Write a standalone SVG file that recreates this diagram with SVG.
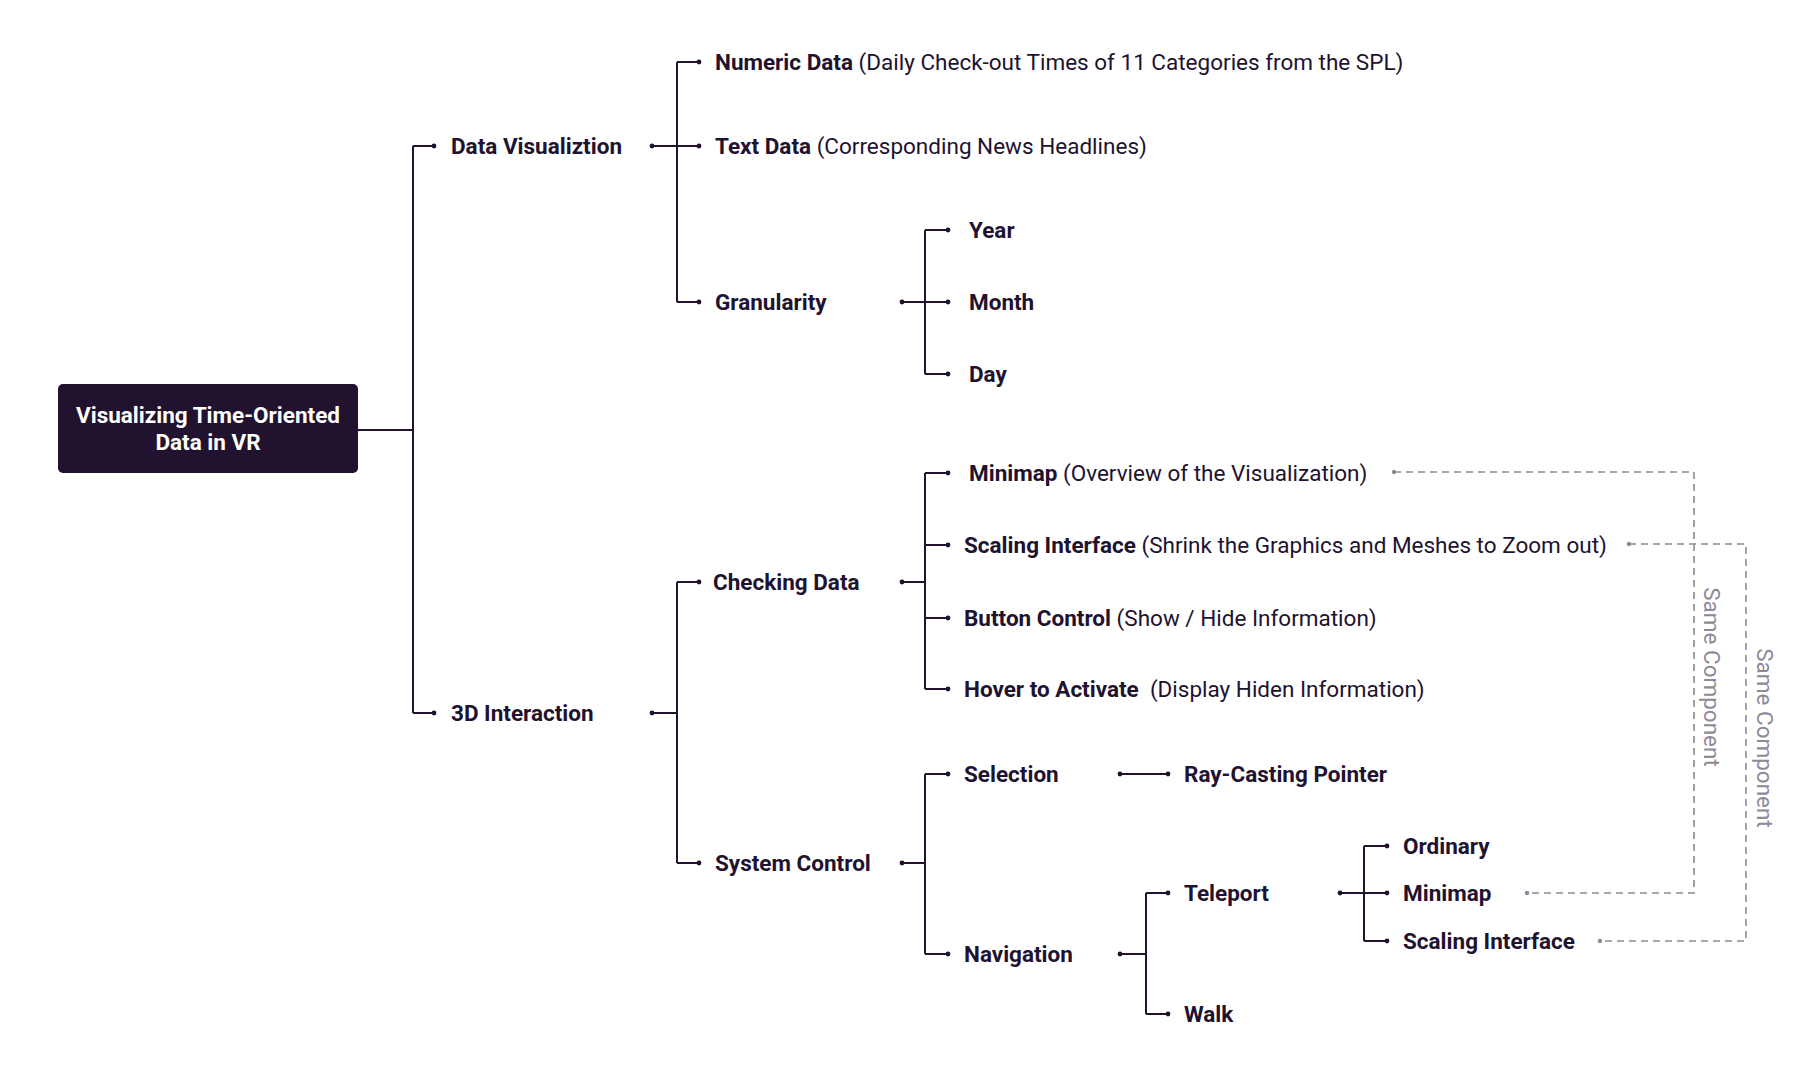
<svg xmlns="http://www.w3.org/2000/svg" width="1800" height="1081" viewBox="0 0 1800 1081">
<defs>
<marker id="dot" viewBox="0 0 6 6" refX="3" refY="3" markerWidth="6" markerHeight="6" markerUnits="userSpaceOnUse"><circle cx="3" cy="3" r="2.4" fill="#21122f"/></marker>
<marker id="gdot" viewBox="0 0 6 6" refX="3" refY="3" markerWidth="6" markerHeight="6" markerUnits="userSpaceOnUse"><circle cx="3" cy="3" r="2.2" fill="#8f8898"/></marker>
<style>
.c{fill:none;stroke:#21122f;stroke-width:2}
.e{marker-end:url(#dot)}
.s{marker-start:url(#dot)}
.d{fill:none;stroke:#8f8898;stroke-width:1.6;stroke-dasharray:7 5;marker-start:url(#gdot);marker-end:url(#gdot)}
text{font-family:Roboto,"Liberation Sans",sans-serif;font-size:22.5px;fill:#21122f}
.b{font-weight:700}
.r{font-weight:400}
.w{fill:#ffffff;font-weight:700;font-size:22.5px}
.g{fill:#8f8898;font-size:22.5px}
</style>
</defs>
<rect width="1800" height="1081" fill="#ffffff"/>
<g id="connectors">
<path class="c" d="M358,430 H413"/>
<path class="c" d="M413,146 V713"/>
<path class="c e" d="M413,146 H434"/>
<path class="c e" d="M413,713 H434"/>

<path class="c s" d="M652,146 H677"/>
<path class="c" d="M677,62 V302"/>
<path class="c e" d="M677,62 H699"/>
<path class="c e" d="M677,146 H699"/>
<path class="c e" d="M677,302 H699"/>

<path class="c s" d="M902,302 H925"/>
<path class="c" d="M925,230 V374"/>
<path class="c e" d="M925,230 H948"/>
<path class="c e" d="M925,302 H948"/>
<path class="c e" d="M925,374 H948"/>

<path class="c s" d="M652,713 H677"/>
<path class="c" d="M677,582 V863"/>
<path class="c e" d="M677,582 H699"/>
<path class="c e" d="M677,863 H699"/>

<path class="c s" d="M902,582 H925"/>
<path class="c" d="M925,473 V689"/>
<path class="c e" d="M925,473 H948"/>
<path class="c e" d="M925,545 H948"/>
<path class="c e" d="M925,618 H948"/>
<path class="c e" d="M925,689 H948"/>

<path class="c s" d="M902,863 H925"/>
<path class="c" d="M925,774 V954"/>
<path class="c e" d="M925,774 H948"/>
<path class="c e" d="M925,954 H948"/>

<path class="c s e" d="M1120,774 H1168"/>

<path class="c s" d="M1120,954 H1146"/>
<path class="c" d="M1146,893 V1014"/>
<path class="c e" d="M1146,893 H1168"/>
<path class="c e" d="M1146,1014 H1168"/>

<path class="c s" d="M1340,893 H1364"/>
<path class="c" d="M1364,846 V941"/>
<path class="c e" d="M1364,846 H1387"/>
<path class="c e" d="M1364,893 H1387"/>
<path class="c e" d="M1364,941 H1387"/>

<path class="d" d="M1394,472 H1694 V893 H1527"/>
<path class="d" d="M1629,544 H1746 V941 H1600"/>
</g>
<g id="root">
<rect x="58" y="384" width="300" height="89" rx="5" fill="#21122f"/>
<text class="w" x="208" y="423" text-anchor="middle">Visualizing Time-Oriented</text>
<text class="w" x="208" y="450" text-anchor="middle">Data in VR</text>
</g>
<g id="data-visualization"><text class="b" x="451" y="154">Data Visualiztion</text></g>
<g id="numeric-data"><text x="715" y="70"><tspan class="b">Numeric Data</tspan><tspan class="r"> (Daily Check-out Times of 11 Categories from the SPL)</tspan></text></g>
<g id="text-data"><text x="715" y="154"><tspan class="b">Text Data</tspan><tspan class="r"> (Corresponding News Headlines)</tspan></text></g>
<g id="granularity"><text class="b" x="715" y="310">Granularity</text></g>
<g id="year"><text class="b" x="969" y="238">Year</text></g>
<g id="month"><text class="b" x="969" y="310">Month</text></g>
<g id="day"><text class="b" x="969" y="382">Day</text></g>
<g id="interaction-3d"><text class="b" x="451" y="721">3D Interaction</text></g>
<g id="checking-data"><text class="b" x="713" y="590">Checking Data</text></g>
<g id="minimap-overview"><text x="969" y="481"><tspan class="b">Minimap</tspan><tspan class="r"> (Overview of the Visualization)</tspan></text></g>
<g id="scaling-shrink"><text x="964" y="553"><tspan class="b">Scaling Interface</tspan><tspan class="r"> (Shrink the Graphics and Meshes to Zoom out)</tspan></text></g>
<g id="button-control"><text x="964" y="626"><tspan class="b">Button Control</tspan><tspan class="r"> (Show / Hide Information)</tspan></text></g>
<g id="hover-activate"><text x="964" y="697" style="white-space:pre"><tspan class="b">Hover to Activate</tspan><tspan class="r">  (Display Hiden Information)</tspan></text></g>
<g id="system-control"><text class="b" x="715" y="871">System Control</text></g>
<g id="selection"><text class="b" x="964" y="782">Selection</text></g>
<g id="ray-casting"><text class="b" x="1184" y="782">Ray-Casting Pointer</text></g>
<g id="navigation"><text class="b" x="964" y="962">Navigation</text></g>
<g id="teleport"><text class="b" x="1184" y="901">Teleport</text></g>
<g id="walk"><text class="b" x="1184" y="1022">Walk</text></g>
<g id="ordinary"><text class="b" x="1403" y="854">Ordinary</text></g>
<g id="minimap-teleport"><text class="b" x="1403" y="901">Minimap</text></g>
<g id="scaling-teleport"><text class="b" x="1403" y="949">Scaling Interface</text></g>
<g id="same-1"><text class="g" transform="translate(1712,677) rotate(90)" text-anchor="middle" dominant-baseline="central">Same Component</text></g>
<g id="same-2"><text class="g" transform="translate(1765,738) rotate(90)" text-anchor="middle" dominant-baseline="central">Same Component</text></g>
</svg>
